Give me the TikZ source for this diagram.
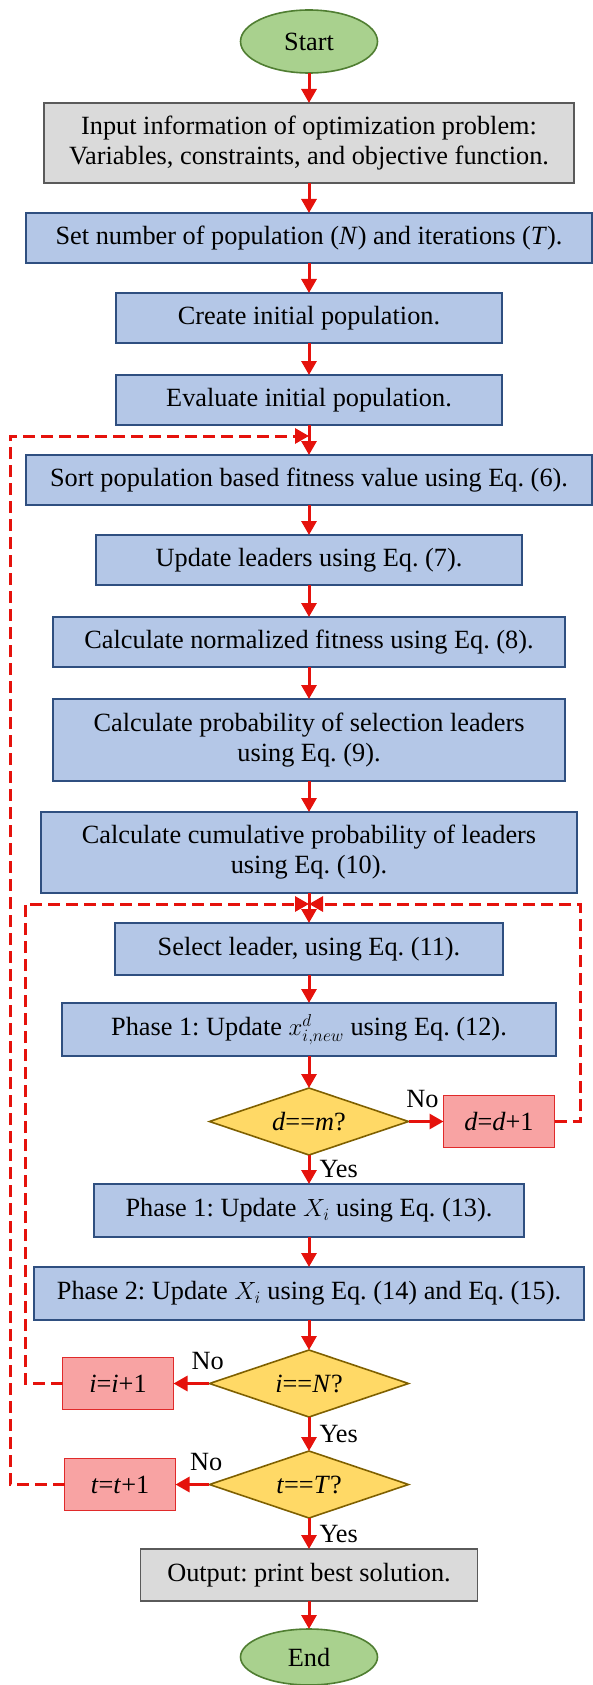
\documentclass[tikz,border=0pt]{standalone}
\usepackage{fontspec}
\setmainfont{Liberation Serif}
\usetikzlibrary{arrows.meta, positioning, shapes.geometric, calc}
\frenchspacing

\definecolor{termfill}{HTML}{A9D18E}
\definecolor{termdraw}{HTML}{507E32}
\definecolor{iofill}{HTML}{DADADA}
\definecolor{iodraw}{HTML}{5A5A5A}
\definecolor{stepfill}{HTML}{B4C7E7}
\definecolor{stepdraw}{HTML}{2F4F80}
\definecolor{testfill}{HTML}{FFD966}
\definecolor{testdraw}{HTML}{7F6000}
\definecolor{incfill}{HTML}{F8A3A3}
\definecolor{incdraw}{HTML}{E02A2A}
\definecolor{flowred}{HTML}{E5120C}

\begin{document}
\begin{tikzpicture}[
    x=1pt, y=1pt,
    every node/.style={font=\fontsize{26.3}{30}\selectfont},
    node distance=30pt,
    box/.style={
        rectangle,
        line width=1.4pt,
        align=center,
        inner sep=0pt,
        outer sep=0pt
    },
    termbox/.style={
        ellipse,
        draw=termdraw,
        fill=termfill,
        line width=1.6pt,
        minimum width=137pt,
        minimum height=63pt,
        inner sep=0pt,
        outer sep=0pt
    },
    iobox/.style={
        box,
        draw=iodraw,
        fill=iofill
    },
    stepbox/.style={
        box,
        draw=stepdraw,
        fill=stepfill,
        minimum height=50pt
    },
    testbox/.style={
        diamond,
        aspect=3,
        draw=testdraw,
        fill=testfill,
        line width=1.6pt,
        minimum width=199pt,
        minimum height=67pt,
        inner sep=0pt,
        outer sep=0pt
    },
    incbox/.style={
        box,
        draw=incdraw,
        fill=incfill,
        minimum width=111pt,
        minimum height=52pt
    },
    lbl/.style={inner sep=0pt},
    arrow/.style={
        line width=3pt,
        draw=flowred,
        -{Triangle[length=14pt, width=15pt]}
    },
    backarrow/.style={
        arrow,
        dash pattern=on 12pt off 6pt
    }
]
\useasboundingbox (0,0) rectangle (592,-1685);

% Main column
\node[termbox] (start) at (309,-41.5) {Start};
\node[iobox, minimum width=530pt, minimum height=80pt, below=30pt of start] (input) {
    Input information of optimization problem:\\
    Variables, constraints, and objective function.
};
\node[stepbox, minimum width=566pt, below=30pt of input] (setup) {Set number of population (\textit{N}) and iterations (\textit{T}).};
\node[stepbox, minimum width=386pt, below=30pt of setup] (create) {Create initial population.};
\node[stepbox, minimum width=386pt, below=32pt of create] (eval) {Evaluate initial population.};
\node[stepbox, minimum width=566pt, below=30pt of eval] (sort) {Sort population based fitness value using Eq. (6).};
\node[stepbox, minimum width=426pt, below=30pt of sort] (leaders) {Update leaders using Eq. (7).};
\node[stepbox, minimum width=512pt, below=32pt of leaders] (norm) {Calculate normalized fitness using Eq. (8).};
\node[stepbox, minimum width=512pt, minimum height=82pt, below=32pt of norm] (prob) {
    Calculate probability of selection leaders\\
    using Eq. (9).
};
\node[stepbox, minimum width=536pt, minimum height=81pt, below=31pt of prob] (cumul) {
    Calculate cumulative probability of leaders\\
    using Eq. (10).
};
\node[stepbox, minimum width=388pt, minimum height=52pt, below=30pt of cumul] (select) {Select leader, using Eq. (11).};
\node[stepbox, minimum width=494pt, minimum height=53pt, below=28pt of select] (phaseone) {Phase 1: Update $x^{d}_{i,new}$ using Eq. (12).};
\node[testbox, below=32pt of phaseone] (dcheck) {\textit{d}==\textit{m}?};
\node[stepbox, minimum width=430pt, minimum height=53pt, below=29pt of dcheck] (updx) {Phase 1: Update $X_i$ using Eq. (13).};
\node[stepbox, minimum width=550pt, minimum height=53pt, below=30pt of updx] (phasetwo) {Phase 2: Update $X_i$ using Eq. (14) and Eq. (15).};
\node[testbox, below=30pt of phasetwo] (icheck) {\textit{i}==\textit{N}?};
\node[testbox, below=34pt of icheck] (tcheck) {\textit{t}==\textit{T}?};
\node[iobox, minimum width=337pt, minimum height=52pt, below=31pt of tcheck] (output) {Output: print best solution.};
\node[termbox, minimum height=56pt, below=28pt of output] (finish) {End};

% Counter boxes
\node[incbox, right=35pt of dcheck] (dinc) {\textit{d}=\textit{d}+1};
\node[incbox, left=36pt of icheck] (iinc) {\textit{i}=\textit{i}+1};
\node[incbox, left=34pt of tcheck] (tinc) {\textit{t}=\textit{t}+1};

% Loop corners
\coordinate (outerjoin) at ([yshift=-11pt]eval.south);
\coordinate (innerjoin) at ([yshift=-11pt]cumul.south);
\coordinate (outerleft) at (10,0);
\coordinate (innerleft) at (25,0);
\coordinate (innerright) at (580,0);

% Main flow arrows
\draw[arrow] (start) -- (input);
\draw[arrow] (input) -- (setup);
\draw[arrow] (setup) -- (create);
\draw[arrow] (create) -- (eval);
\draw[arrow] (eval) -- (sort);
\draw[arrow] (sort) -- (leaders);
\draw[arrow] (leaders) -- (norm);
\draw[arrow] (norm) -- (prob);
\draw[arrow] (prob) -- (cumul);
\draw[arrow] (cumul) -- (select);
\draw[arrow] (select) -- (phaseone);
\draw[arrow] (phaseone) -- (dcheck);
\draw[arrow] (dcheck) -- node[lbl, right=9pt] {Yes} (updx);
\draw[arrow] (updx) -- (phasetwo);
\draw[arrow] (phasetwo) -- (icheck);
\draw[arrow] (icheck) -- node[lbl, right=9pt] {Yes} (tcheck);
\draw[arrow] (tcheck) -- node[lbl, right=9pt] {Yes} (output);
\draw[arrow] (output) -- (finish);

% Decision "No" arrows
\draw[arrow] (dcheck) -- node[lbl, above=12pt, pos=0.4] {No} (dinc);
\draw[arrow] (icheck) -- node[lbl, above=12pt, pos=0.05] {No} (iinc);
\draw[arrow] (tcheck) -- node[lbl, above=12pt, pos=0.1] {No} (tinc);

% Dashed loop-back arrows
\draw[backarrow] (dinc.east) -- (dinc.east -| innerright) |- (innerjoin);
\draw[backarrow] (iinc.west) -- (iinc.west -| innerleft) |- (innerjoin);
\draw[backarrow] (tinc.west) -- (tinc.west -| outerleft) |- (outerjoin);

\end{tikzpicture}
\end{document}
